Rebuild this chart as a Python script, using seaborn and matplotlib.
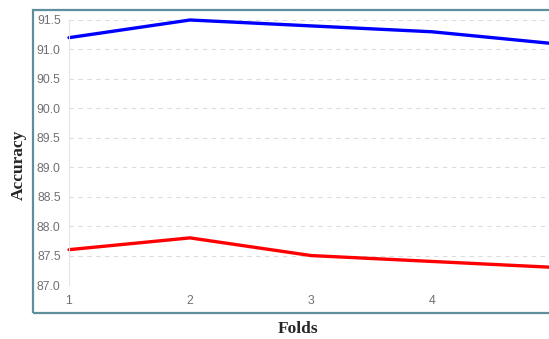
import matplotlib
matplotlib.use("Agg")
import matplotlib.pyplot as plt
import seaborn as sns
import pandas as pd
from matplotlib.patches import Rectangle

folds = [1, 2, 3, 4, 5]
series_a = [91.2, 91.5, 91.4, 91.3, 91.1]
series_b = [87.6, 87.8, 87.5, 87.4, 87.3]
yticks = [87.0, 87.5, 88.0, 88.5, 89.0, 89.5, 90.0, 90.5, 91.0, 91.5]

df = pd.DataFrame({
    "Folds": folds * 2,
    "Accuracy": series_a + series_b,
    "Series": ["A"] * len(folds) + ["B"] * len(folds),
})

sns.set_style("white")
fig = plt.figure(figsize=(5.49, 3.39), dpi=100)
W, H = 549, 339

# outer frame
fig.patches.append(Rectangle((33 / W, 1 - 313 / H), (600 - 33) / W, (313 - 10) / H,
                             transform=fig.transFigure, fill=False,
                             edgecolor="#5f8e9c", linewidth=1.6, zorder=0))

left, right = 69 / W, 553 / W
bottom, top = 1 - 285 / H, 1 - 20 / H
ax = fig.add_axes([left, bottom, right - left, top - bottom])
ax.set_facecolor("none")

sns.lineplot(data=df, x="Folds", y="Accuracy", hue="Series",
             palette={"A": "#0000ff", "B": "#ff0000"}, linewidth=2.4,
             legend=False, ax=ax, clip_on=False)

ax.set_xlim(1, 5)
ax.set_ylim(87.0, 91.5)
ax.set_yticks(yticks)
ax.set_yticklabels([f"{v:.1f}" for v in yticks])
ax.set_xticks(folds)
for s in ["top", "right", "bottom"]:
    ax.spines[s].set_visible(False)
ax.spines["left"].set_color("#e6e6e6")
ax.spines["left"].set_linewidth(0.8)
ax.yaxis.grid(True, linestyle=(0, (4, 4)), color="#dddddd", linewidth=0.8)
ax.xaxis.grid(False)
ax.tick_params(axis="y", length=5, color="#e6e6e6", labelsize=8.8,
               labelcolor="#707070", pad=1)
ax.tick_params(axis="x", length=0, labelsize=8.8, labelcolor="#707070", pad=7)
for lbl in ax.get_xticklabels() + ax.get_yticklabels():
    lbl.set_fontfamily("Liberation Sans")
ax.set_xlabel("")
ax.set_ylabel("")

fig.text(298 / W, 1 - 329 / H, "Folds", ha="center", va="center",
         fontfamily="Liberation Serif", fontweight="bold", fontsize=12.5)
fig.text(19 / W, 1 - 165 / H, "Accuracy", ha="center", va="center", rotation=90,
         fontfamily="Liberation Serif", fontweight="bold", fontsize=12.5)

fig.savefig("out.png", dpi=100)
